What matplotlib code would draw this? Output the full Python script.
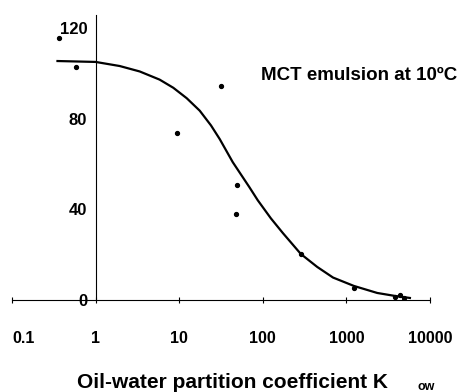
import numpy as np
import matplotlib.pyplot as plt

plt.rcParams['font.family'] = ['Liberation Sans', 'DejaVu Sans']
plt.rcParams['font.weight'] = 'bold'

# measured points (Kow, %)
kow_pts = [0.36, 0.59, 9.3, 32, 49, 47.5, 285, 1230, 3800, 4400, 4900]
val_pts = [115.6, 102.8, 73.7, 94.4, 50.7, 37.9, 20.3, 5.3, 1.5, 2.0, 1.0]

# fitted curve
kow_fit = [0.35, 1, 1.94, 3.37, 5.83, 8.5, 12.3, 17.6, 24, 30.5, 43.7, 69, 87,
           125, 174, 285, 447, 692, 1230, 2340, 3800, 5750]
val_fit = [105.4, 105, 103.2, 100.8, 97.2, 93.6, 89.0, 83.5, 77.0, 71.0, 60.8, 49.8, 44,
           36.0, 29.5, 20.3, 14.6, 9.9, 6.2, 3.1, 1.8, 0.9]

xticks = [0.1, 1, 10, 100, 1000, 10000]
xticklabels = ["0.1", "1", "10", "100", "1000", "10000"]
yticks = [0, 40, 80, 120]

fig = plt.figure(figsize=(4.58, 3.92), dpi=100)
ax = fig.add_axes([12/458, 1 - 300/392, 418/458, 285/392])

ax.plot(kow_fit, val_fit, color="black", linewidth=1.6)
ax.plot(kow_pts, val_pts, "o", color="black", markersize=2.8)

ax.set_xscale("log")
ax.set_xlim(0.1, 10000)
ax.set_ylim(0, 125.7)

ax.spines["top"].set_visible(False)
ax.spines["right"].set_visible(False)
ax.spines["left"].set_position(("data", 1))
ax.spines["left"].set_linewidth(0.8)
ax.spines["bottom"].set_linewidth(0.8)

ax.set_xticks(xticks)
ax.set_xticklabels(xticklabels, fontsize=11.5, fontweight="bold")
ax.get_xticklabels()[0].set_horizontalalignment("left")
ax.xaxis.set_minor_locator(plt.NullLocator())
ax.tick_params(axis="x", direction="inout", length=4, width=0.8, pad=20)

ax.set_yticks(yticks)
ax.set_yticklabels([str(v) for v in yticks], fontsize=12, fontweight="bold")
ax.tick_params(axis="y", length=0, pad=6)

# x-axis title with a detached subscript, as in the original
fig.text(77/458, 1 - 388/392, "Oil-water partition coefficient K", fontsize=15,
         fontweight="bold", ha="left", va="baseline")
fig.text(418/458, 1 - 390/392, "ow", fontsize=9, fontweight="bold",
         ha="left", va="baseline")

fig.text(457/458, 1 - 75/392, "MCT emulsion at 10ºC", fontsize=13.5,
         fontweight="bold", ha="right", va="center")

fig.savefig("out.png", dpi=100)
